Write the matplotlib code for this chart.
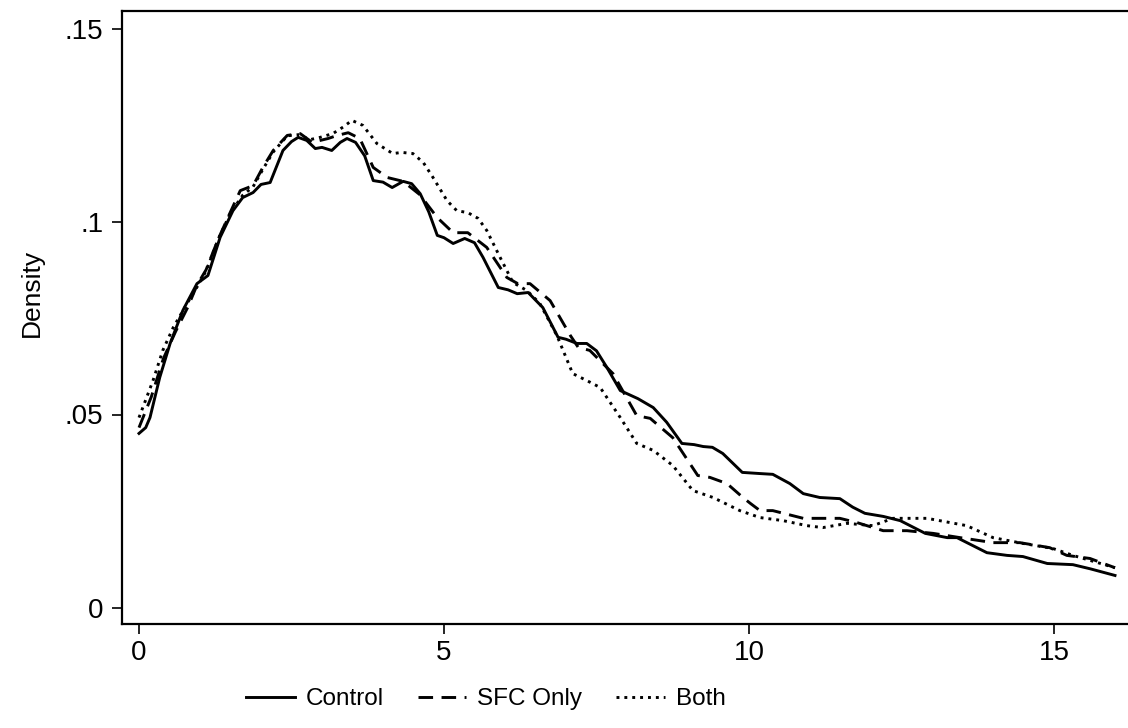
import matplotlib
matplotlib.use("Agg")
import matplotlib.pyplot as plt

plt.rcParams['font.family'] = ['Liberation Sans', 'DejaVu Sans']

control_x = [0, 0.11, 0.18, 0.34, 0.51, 0.72, 0.95, 1.13, 1.33, 1.54, 1.7, 1.87, 2.0, 2.15, 2.36, 2.5,
             2.61, 2.75, 2.89, 3.0, 3.16, 3.3, 3.41, 3.55, 3.7, 3.84, 4.0, 4.15, 4.33, 4.47, 4.61, 4.75,
             4.89, 5.0, 5.15, 5.34, 5.5, 5.64, 5.89, 6.05, 6.2, 6.38, 6.62, 6.87, 7.0, 7.18, 7.34, 7.5,
             7.67, 7.89, 8.18, 8.43, 8.65, 8.9, 9.1, 9.25, 9.4, 9.57, 9.89, 10.18, 10.39, 10.67, 10.89,
             11.16, 11.49, 11.7, 11.9, 12.2, 12.48, 12.89, 13.25, 13.41, 13.9, 14.23, 14.49, 14.89,
             15.31, 15.6, 16.0]
control_y = [0.0451, 0.0466, 0.0492, 0.0596, 0.0684, 0.077, 0.0839, 0.086, 0.0959, 0.1028, 0.1062,
             0.1075, 0.1096, 0.1101, 0.1184, 0.1207, 0.1218, 0.1210, 0.1189, 0.1192, 0.1184, 0.1205,
             0.1215, 0.1205, 0.1170, 0.1106, 0.1102, 0.1088, 0.1104, 0.1098, 0.1072, 0.1025, 0.0964,
             0.0958, 0.0943, 0.0956, 0.0945, 0.0907, 0.0829, 0.0823, 0.0813, 0.0816, 0.0777, 0.0700,
             0.0695, 0.0684, 0.0684, 0.0665, 0.0622, 0.0562, 0.0541, 0.0518, 0.0480, 0.0425, 0.0422,
             0.0417, 0.0415, 0.0399, 0.0350, 0.0347, 0.0345, 0.0321, 0.0295, 0.0285, 0.0282, 0.0260,
             0.0244, 0.0236, 0.0225, 0.0192, 0.0181, 0.0181, 0.0142, 0.0135, 0.0132, 0.0114, 0.0111,
             0.0100, 0.0083]

sfc_x = [0, 0.2, 0.4, 0.6, 0.8, 0.95, 1.1, 1.3, 1.5, 1.66, 1.87, 2.03, 2.2, 2.43, 2.64, 2.84, 3.1,
         3.25, 3.43, 3.62, 3.84, 4.07, 4.33, 4.6, 4.89, 5.15, 5.39, 5.7, 6.03, 6.21, 6.41, 6.74, 7.07,
         7.2, 7.39, 7.77, 8.16, 8.38, 8.75, 9.16, 9.36, 9.64, 9.9, 10.02, 10.18, 10.39, 10.89, 11.21,
         11.49, 11.77, 12.2, 12.59, 13.02, 13.46, 14.0, 14.44, 14.93, 15.21, 15.59, 16.0]
sfc_y = [0.0466, 0.0545, 0.0645, 0.0715, 0.0778, 0.0835, 0.0875, 0.0955, 0.1025, 0.1080, 0.1093,
         0.1140, 0.1184, 0.1223, 0.1228, 0.1205, 0.1215, 0.1223, 0.1230, 0.1215, 0.1140, 0.1114,
         0.1104, 0.1070, 0.1010, 0.0971, 0.0971, 0.0933, 0.0855, 0.0839, 0.0839, 0.0795, 0.0705,
         0.0674, 0.0666, 0.0606, 0.0497, 0.0490, 0.0440, 0.0342, 0.0337, 0.0321, 0.0285, 0.0270,
         0.0251, 0.0251, 0.0231, 0.0231, 0.0231, 0.0220, 0.0199, 0.0199, 0.0192, 0.0181, 0.0168,
         0.0168, 0.0155, 0.0135, 0.0127, 0.0103]

both_x = [0, 0.23, 0.39, 0.56, 0.79, 0.95, 1.1, 1.3, 1.5, 1.7, 1.87, 2.03, 2.2, 2.43, 2.62, 2.8, 2.97,
          3.18, 3.35, 3.49, 3.67, 3.9, 4.16, 4.31, 4.49, 4.66, 4.82, 5.05, 5.21, 5.39, 5.56, 5.7, 5.92,
          6.13, 6.36, 6.57, 6.85, 7.11, 7.34, 7.56, 7.89, 8.16, 8.43, 8.75, 9.08, 9.41, 9.85, 10.18,
          10.56, 10.95, 11.21, 11.61, 12.03, 12.36, 12.92, 13.57, 14.0, 14.49, 14.98, 15.31, 15.7, 16.0]
both_y = [0.0492, 0.0588, 0.0666, 0.0725, 0.0788, 0.0830, 0.0872, 0.0955, 0.1022, 0.1068, 0.1090,
          0.1135, 0.1180, 0.1222, 0.1225, 0.1212, 0.1218, 0.1228, 0.1245, 0.1262, 0.1249, 0.1202,
          0.1176, 0.1179, 0.1176, 0.1153, 0.1114, 0.1054, 0.1028, 0.1023, 0.1008, 0.0977, 0.0907,
          0.0842, 0.0821, 0.0788, 0.0705, 0.0606, 0.0588, 0.0570, 0.0492, 0.0425, 0.0407, 0.0368,
          0.0303, 0.0285, 0.0251, 0.0233, 0.0225, 0.0212, 0.0207, 0.0218, 0.0212, 0.0231, 0.0231,
          0.0212, 0.0181, 0.0166, 0.0153, 0.0135, 0.0117, 0.0103]

series_labels = ["Control", "SFC Only", "Both"]
x_ticks = [0, 5, 10, 15]
y_ticks = [0, 0.05, 0.10, 0.15]
y_tick_labels = ["0", ".05", ".1", ".15"]

W, H = 1128, 728
fig = plt.figure(figsize=(W / 100, H / 100), dpi=100)
ax_left, ax_right, ax_top, ax_bottom = 122, 1132, 11, 624
ax = fig.add_axes([ax_left / W, 1 - ax_bottom / H, (ax_right - ax_left) / W, (ax_bottom - ax_top) / H])

lw = 2.1
ax.plot(control_x, control_y, color='black', lw=lw, linestyle='-', label=series_labels[0],
        solid_joinstyle='round')
ax.plot(sfc_x, sfc_y, color='black', lw=lw, linestyle=(0, (5.0, 2.9)), label=series_labels[1],
        dash_joinstyle='round')
ax.plot(both_x, both_y, color='black', lw=lw, linestyle=(0, (1.0, 1.7)), label=series_labels[2])

ax.set_xlim((ax_left - 139) / 61.0, (ax_right - 139) / 61.0)
ax.set_ylim((607.5 - ax_bottom) / 3860.0, (607.5 - ax_top) / 3860.0)

ax.set_xticks(x_ticks)
ax.set_xticklabels([str(t) for t in x_ticks])
ax.set_yticks(y_ticks)
ax.set_yticklabels(y_tick_labels)
ax.tick_params(axis='both', direction='out', length=7.5, width=1.2, labelsize=20, colors='black')
ax.tick_params(axis='x', pad=4)
ax.tick_params(axis='y', pad=6)

for s in ['left', 'bottom', 'top']:
    ax.spines[s].set_linewidth(1.6)
ax.spines['right'].set_visible(False)

ax.set_ylabel("Density", fontsize=19)
ax.yaxis.set_label_coords((44 - ax_left) / (ax_right - ax_left), (ax_bottom - 293) / (ax_bottom - ax_top))

fig.legend(loc='center', bbox_to_anchor=(486 / W, 1 - 699 / H), ncol=3, frameon=False,
           fontsize=17.5, handlelength=2.0, handletextpad=0.45, columnspacing=1.4)

fig.savefig("out.png", dpi=100)
